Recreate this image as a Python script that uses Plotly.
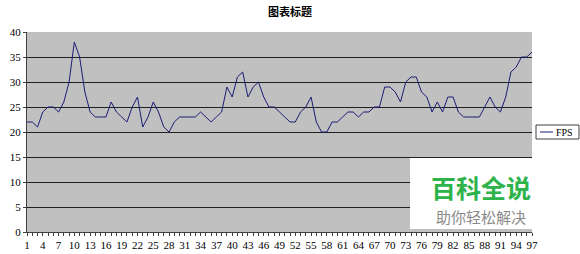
import plotly.graph_objects as go

x_values = list(range(1, 98))
fps = [22, 22, 21, 24, 25, 25, 24, 26, 30, 38,
       35, 28, 24, 23, 23, 23, 26, 24, 23, 22,
       25, 27, 21, 23, 26, 24, 21, 20, 22, 23,
       23, 23, 23, 24, 23, 22, 23, 24, 29, 27,
       31, 32, 27, 29, 30, 27, 25, 25, 24, 23,
       22, 22, 24, 25, 27, 22, 20, 20, 22, 22,
       23, 24, 24, 23, 24, 24, 25, 25, 29, 29,
       28, 26, 30, 31, 31, 28, 27, 24, 26, 24,
       27, 27, 24, 23, 23, 23, 23, 25, 27, 25,
       24, 27, 32, 33, 35, 35, 36]
x_tick_labels = list(range(1, 98, 3))
y_ticks = [0, 5, 10, 15, 20, 25, 30, 35, 40]
series_name = "FPS"
title_text = "图表标题"

W, H = 580, 254
L, R, T, B = 27, 48, 32, 22
LINE_COLOR = "#1c1c78"

fig = go.Figure()
fig.add_trace(go.Scatter(
    x=x_values, y=fps, mode="lines", name=series_name,
    line=dict(color=LINE_COLOR, width=1), showlegend=False,
))

def px_x(p):
    return (p - L) / (W - L - R)

def px_y(p):
    return (H - B - p) / (H - T - B)

fig.update_layout(
    width=W, height=H,
    margin=dict(l=L, r=R, t=T, b=B, autoexpand=False),
    paper_bgcolor="white",
    plot_bgcolor="#c0c0c0",
    title=dict(text=title_text, x=0.5, xanchor="center", y=1 - 12 / H, yanchor="middle",
               font=dict(family="Noto Sans CJK SC", size=11, color="black", weight="bold")),
    showlegend=False,
    xaxis=dict(range=[1, 97], tickmode="array", tickvals=x_tick_labels,
               ticktext=[str(v) for v in x_tick_labels],
               showgrid=False, zeroline=False, showline=True, linecolor="#404040", linewidth=1,
               ticks="outside", ticklen=3, tickcolor="#404040",
               minor=dict(dtick=1, tick0=1, ticks="outside", ticklen=3, tickcolor="#404040"),
               tickfont=dict(family="Liberation Serif", size=11, color="black")),
    yaxis=dict(range=[0, 40], tickvals=y_ticks, showgrid=True, gridcolor="#202020", gridwidth=1,
               zeroline=False, showline=True, linecolor="#404040", linewidth=1,
               ticks="outside", ticklen=3, tickcolor="#404040",
               tickfont=dict(family="Liberation Serif", size=11, color="black")),
)

# legend drawn manually (compact Excel-style box)
fig.add_shape(type="rect", xref="paper", yref="paper",
              x0=px_x(536), x1=px_x(579), y0=px_y(139), y1=px_y(125),
              fillcolor="white", line=dict(color="#404040", width=1), layer="above")
fig.add_shape(type="line", xref="paper", yref="paper",
              x0=px_x(540), x1=px_x(553), y0=px_y(132), y1=px_y(132),
              line=dict(color=LINE_COLOR, width=1), layer="above")
fig.add_annotation(text=series_name, xref="paper", yref="paper",
                   x=px_x(554), y=px_y(132), xanchor="left", yanchor="middle", showarrow=False,
                   font=dict(family="Liberation Serif", size=10, color="black"))

# watermark overlay
fig.add_shape(type="rect", xref="paper", yref="paper",
              x0=px_x(410), x1=px_x(556), y0=px_y(229), y1=px_y(158),
              fillcolor="white", line=dict(width=0), layer="above")
fig.add_annotation(text="百科全说", xref="paper", yref="paper",
                   x=px_x(481), y=px_y(187), xanchor="center", yanchor="middle", showarrow=False,
                   font=dict(family="Noto Sans CJK SC", size=25, color="#2db34a", weight="bold"))
fig.add_annotation(text="助你轻松解决", xref="paper", yref="paper",
                   x=px_x(481), y=px_y(216), xanchor="center", yanchor="middle", showarrow=False,
                   font=dict(family="Noto Sans CJK SC", size=15, color="#8a8a8a"))

fig.write_html("out.html")
